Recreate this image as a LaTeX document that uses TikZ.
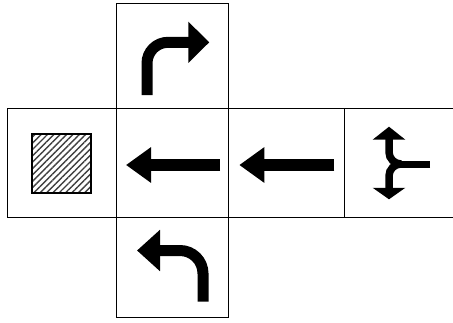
\documentclass[tikz,border=0pt]{standalone}
\usetikzlibrary{arrows.meta,patterns.meta}
\begin{document}
\begin{tikzpicture}[x=1pt,y=-1pt,
  cell/.style={draw,line width=1pt,rectangle,inner sep=0pt,minimum width=#1},
  bigarrow/.style={line width=11.5pt,-{Triangle[width=34pt,length=25pt]}},
  turnarrow/.style={line width=11pt},
  splitarrow/.style={line width=7.5pt,rounded corners=12pt}]
\useasboundingbox (0,0) rectangle (453,322);
\node[cell=112pt,minimum height=105pt] (top) at (172.3,55.8) {};
\node[cell=109pt,minimum height=108.7pt] (left) at (61.8,162.65) {};
\node[cell=112pt,minimum height=108.7pt] (center) at (172.3,162.65) {};
\node[cell=116pt,minimum height=108.7pt] (right) at (286.3,162.65) {};
\node[cell=110.7pt,minimum height=108.7pt] (far) at (399.65,162.65) {};
\node[cell=112pt,minimum height=100pt] (bottom) at (172.3,267) {};
% hatched square
\node[draw,line width=2pt,inner sep=0pt,minimum width=59.3pt,minimum height=59.6pt,
  pattern={Lines[angle=45,distance=4.5pt,line width=1.4pt]},pattern color=black!75] (sq) at (61.35,163.5) {};
% straight arrows
\coordinate (c1) at (220,165); \coordinate (c2) at (126,165);
\draw[bigarrow] (c1) -- (c2);
\coordinate (r1) at (334.3,165); \coordinate (r2) at (239.3,165);
\draw[bigarrow] (r1) -- (r2);
% top right-turn arrow
\coordinate (t1) at (147,95); \coordinate (t2) at (209.3,42.3);
\draw[turnarrow,rounded corners=21pt,-{Triangle[width=40pt,length=21pt]}] (t1) |- (t2);
% bottom left-turn arrow
\coordinate (b1) at (203,301.7); \coordinate (b2) at (137,250.5);
\draw[turnarrow,rounded corners=23pt,-{Triangle[width=40pt,length=23pt]}] (b1) |- (b2);
% split arrow
\coordinate (s1) at (430,164); \coordinate (sj) at (400,164);
\coordinate (su) at (389,126.7); \coordinate (sd) at (389,199.3);
\draw[line width=7pt] (s1) -- (sj);
\draw[splitarrow,-{Triangle[width=32pt,length=13pt]}] (sj) -| (su);
\draw[splitarrow,-{Triangle[width=32pt,length=11.5pt]}] (sj) -| (sd);
\end{tikzpicture}
\end{document}
